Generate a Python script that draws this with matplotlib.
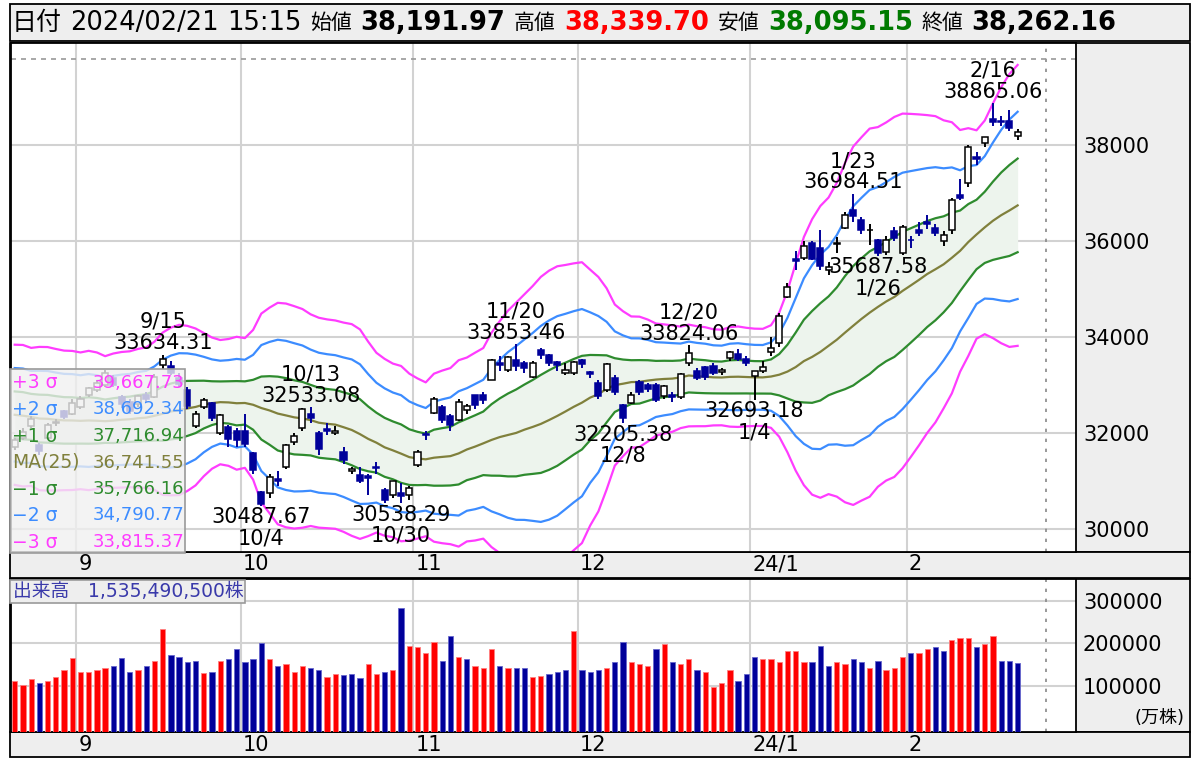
import matplotlib.pyplot as plt
import matplotlib.patches as mpatches
import matplotlib.transforms as mtransforms
import numpy as np
import pandas as pd

plt.rcParams['font.family'] = ['DejaVu Sans', 'Noto Sans CJK JP']

# trading days shown (Aug 22 2023 .. Feb 21 2024)
days = {
    '2023-08': [22, 23, 24, 25, 28, 29, 30, 31],
    '2023-09': [1, 4, 5, 6, 7, 8, 11, 12, 13, 14, 15, 19, 20, 21, 22, 25, 26, 27, 28, 29],
    '2023-10': [2, 3, 4, 5, 6, 10, 11, 12, 13, 16, 17, 18, 19, 20, 23, 24, 25, 26, 27, 30, 31],
    '2023-11': [1, 2, 6, 7, 8, 9, 10, 13, 14, 15, 16, 17, 20, 21, 22, 24, 27, 28, 29, 30],
    '2023-12': [1, 4, 5, 6, 7, 8, 11, 12, 13, 14, 15, 18, 19, 20, 21, 22, 25, 26, 27, 28, 29],
    '2024-01': [4, 5, 9, 10, 11, 12, 15, 16, 17, 18, 19, 22, 23, 24, 25, 26, 29, 30, 31],
    '2024-02': [1, 2, 5, 6, 7, 8, 9, 13, 14, 15, 16, 19, 20, 21],
}
dates = [f'{m}-{d:02d}' for m, ds in days.items() for d in ds]

# closes of the 24 sessions before Aug 22 (needed for the 25-day bands)
pre_close = [32493.89, 32896.03, 32490.52, 32304.25, 32700.69, 32682.51, 32668.34,
             32891.16, 32759.23, 33172.22, 33476.58, 32707.69, 32159.28, 32192.75,
             32254.56, 32377.29, 32204.33, 32473.65, 32059.91, 32238.89, 31766.82,
             31626.00, 31450.76, 31565.64]

opens = [31700, 31900, 32150, 31750, 31900, 32200, 32450, 32400, 32550, 32800,
         32900, 33000, 33150, 32750, 32650, 32600, 32800, 32750, 33420, 33400,
         33150, 32900, 32150, 32540, 32620, 32000, 32130, 32050, 32050, 31580,
         30770, 30750, 31050, 31300, 31810, 32100, 32400, 32000, 32080, 32000,
         31600, 31200, 31120, 31100, 31300, 30820, 30700, 30750, 30700, 31330,
         31980, 32420, 32540, 32350, 32270, 32480, 32790, 32790, 33104, 33450,
         33313, 33521, 33458, 33170, 33729, 33625, 33486, 33250, 33250, 33521,
         33280, 33035, 32896, 33146, 32583, 32625, 33069, 33000, 33000, 32760,
         32800, 32756, 33450, 33300, 33380, 33400, 33280, 33560, 33650, 33550,
         33193, 33300, 33680, 33880, 34830, 35620, 35650, 35950, 35850, 35400,
         35940, 36271, 36650, 36440, 36220, 36020, 35770, 36200, 35750, 36020,
         36230, 36400, 36270, 35990, 36230, 36950, 37210, 37760, 38040, 38550,
         38500, 38500, 38191.97]
highs = [31900, 32100, 32350, 31800, 32200, 32300, 32480, 32700, 32780, 32960,
         33100, 33320, 33200, 32800, 32700, 32800, 32850, 33220, 33634.31, 33500,
         33250, 32950, 32450, 32720, 32650, 32400, 32160, 32100, 32400, 31600,
         30800, 31150, 31200, 31780, 32000, 32520, 32533.08, 32050, 32200, 32150,
         31700, 31300, 31300, 31150, 31400, 30850, 31000, 30950, 30900, 31650,
         32050, 32750, 32580, 32400, 32700, 32600, 32800, 32850, 33550, 33600,
         33600, 33853.46, 33500, 33500, 33770, 33650, 33500, 33450, 33500, 33550,
         33300, 33100, 33450, 33200, 32600, 32850, 33100, 33050, 33050, 33000,
         32850, 33250, 33824.06, 33350, 33400, 33450, 33350, 33700, 33750, 33600,
         33300, 33500, 33990, 34500, 35125, 35800, 36000, 36000, 36230, 35560,
         36090, 36600, 36984.51, 36500, 36350, 36050, 36100, 36300, 36330, 36100,
         36400, 36550, 36350, 36200, 36900, 37290, 38000, 37850, 38170, 38865.06,
         38600, 38730, 38339.70]
lows = [31650, 31850, 32100, 31550, 31880, 32150, 32300, 32380, 32500, 32750,
        32850, 32950, 32950, 32520, 32400, 32550, 32650, 32730, 33330, 33200,
        32950, 32500, 32100, 32500, 32250, 31950, 31700, 31700, 31700, 31150,
        30487.67, 30650, 30900, 31250, 31750, 32050, 32200, 31550, 31950, 31950,
        31350, 31150, 30950, 30700, 31150, 30550, 30650, 30538.29, 30600, 31300,
        31850, 32400, 32200, 32050, 32250, 32400, 32500, 32600, 33100, 33300,
        33280, 33300, 33250, 33150, 33550, 33400, 33300, 33200, 33200, 33350,
        33150, 32700, 32850, 32800, 32205.38, 32600, 32800, 32850, 32650, 32700,
        32650, 32700, 33400, 33100, 33100, 33200, 33200, 33500, 33500, 33400,
        32693.18, 33250, 33600, 33800, 34810, 35400, 35600, 35600, 35400, 35300,
        35750, 36250, 36400, 36150, 35917, 35687.58, 35700, 36000, 35700, 35850,
        36100, 36250, 36100, 35900, 36150, 36850, 37125, 37580, 37950, 38400,
        38400, 38300, 38095.15]
closes = [31856.71, 32010.26, 32287.21, 31624.28, 32169.99, 32226.97, 32333.46, 32619.34,
          32710.62, 32939.18, 33036.76, 33241.02, 32991.08, 32606.84, 32467.76, 32776.37,
          32706.52, 33168.10, 33533.09, 33242.59, 33023.78, 32571.03, 32402.41, 32678.62,
          32315.05, 32371.90, 31872.52, 31857.62, 31759.88, 31237.94, 30526.88, 31075.36,
          30994.67, 31746.53, 31936.51, 32494.66, 32315.99, 31659.03, 32040.29, 32042.25,
          31430.62, 31259.36, 30999.55, 31062.35, 31269.92, 30601.78, 30991.69, 30696.96,
          30858.85, 31601.65, 31949.89, 32708.48, 32271.82, 32166.48, 32646.46, 32568.11,
          32585.11, 32695.93, 33519.70, 33424.41, 33585.20, 33388.03, 33354.14, 33451.83,
          33625.53, 33447.67, 33408.39, 33321.22, 33486.89, 33431.51, 33231.27, 32775.82,
          33445.90, 32858.31, 32307.86, 32791.80, 32843.71, 32926.35, 32686.25, 32970.55,
          32758.98, 33219.39, 33675.94, 33140.47, 33169.05, 33254.03, 33305.85, 33681.24,
          33539.62, 33464.17, 33288.29, 33377.42, 33763.18, 34441.72, 35049.86, 35577.11,
          35901.79, 35619.18, 35477.75, 35466.17, 35963.27, 36546.95, 36517.57, 36226.48,
          36236.47, 35751.07, 36026.94, 36065.86, 36286.71, 36011.46, 36158.02, 36354.16,
          36160.66, 36119.92, 36863.28, 36897.42, 37963.97, 37703.32, 38157.94, 38487.24,
          38470.38, 38363.61, 38262.16]
# volume, 10k shares
volumes = [111500, 101400, 114800, 105400, 110800, 119500, 136800, 164300, 132800, 132800,
           136800, 140700, 146200, 164300, 132800, 136800, 146200, 158800, 233500, 172200,
           168200, 154900, 158800, 128900, 132800, 158800, 163500, 185600, 154900, 163500,
           199700, 163500, 146200, 150100, 132800, 146200, 140700, 136800, 119500, 128100,
           124000, 127400, 118700, 150200, 127400, 132800, 136800, 282300, 194100, 190300,
           176900, 203600, 158800, 216200, 168200, 163500, 146200, 141500, 185600, 146200,
           141500, 141500, 141500, 119500, 123300, 128100, 132800, 136800, 229500, 136800,
           132800, 136800, 141500, 154900, 203600, 154900, 150200, 146200, 185600, 198900,
           154900, 150200, 163500, 136800, 132800, 97400, 106100, 136800, 110800, 128100,
           168200, 163500, 163500, 154900, 180900, 180900, 154900, 154900, 194100, 146200,
           154900, 150200, 163500, 154900, 141500, 158800, 136800, 141500, 168200, 176900,
           176900, 185600, 190300, 180900, 207500, 211500, 211500, 190300, 198900, 216200,
           158800, 158800, 153549]

month_labels = ['9', '10', '11', '12', '24/1', '2']
peaks = [('2023-09-15', 'high'), ('2023-10-04', 'low'), ('2023-10-13', 'high'),
         ('2023-10-30', 'low'), ('2023-11-20', 'high'), ('2023-12-08', 'low'),
         ('2023-12-20', 'high'), ('2024-01-04', 'low'), ('2024-01-23', 'high'),
         ('2024-01-26', 'low'), ('2024-02-16', 'high')]
legend_names = ['+3 σ', '+2 σ', '+1 σ', 'MA(25)', '−1 σ', '−2 σ', '−3 σ']
legend_values = ['39,667.73', '38,692.34', '37,716.94', '36,741.55',
                 '35,766.16', '34,790.77', '33,815.37']

C3, C2, C1, CMA = '#FF3CFF', '#3C8CFF', '#2E8B2E', '#80803C'
NAVY = '#00009A'

W, H = 1200, 758
fig = plt.figure(figsize=(W / 100, H / 100), dpi=100)


def fx(x):
    return x / W


def fy(y):
    return 1 - y / H


def panel(x0, y0, x1, y1):
    fig.patches.append(mpatches.Rectangle((fx(x0), fy(y1)), fx(x1) - fx(x0), fy(y0) - fy(y1),
                                          transform=fig.transFigure, facecolor='#EEEEEE',
                                          edgecolor='black', lw=1.3, zorder=-5))


panel(10, 4, 1190, 41)
panel(10, 43, 1190, 552)
panel(10, 552, 1190, 578)
panel(10, 579, 1190, 732)
panel(10, 732, 1190, 757)

ax = fig.add_axes([fx(11), fy(552), fx(1076) - fx(11), fy(43) - fy(552)])
axv = fig.add_axes([fx(11), fy(732), fx(1076) - fx(11), fy(579) - fy(732)])

n = len(closes)
x = np.arange(n)
o, h, l, c = map(np.array, (opens, highs, lows, closes))

# month boundaries
months = [d[:7] for d in dates]
bounds = [i - 0.5 for i in range(1, n) if months[i] != months[i - 1]]

# bollinger bands
s = pd.Series(pre_close + closes)
ma = s.rolling(25).mean().to_numpy()[len(pre_close):]
sd = s.rolling(25).std(ddof=0).to_numpy()[len(pre_close):]

for a in (ax, axv):
    a.set_xlim(-0.45, 129.1)
    a.set_xticks(bounds)
    a.tick_params(axis='x', length=0, labelbottom=False)
    a.tick_params(axis='y', length=0, labelsize=15, pad=5, left=False, labelleft=False,
                  right=False, labelright=True)
    a.grid(True, color='#D2D2D2', lw=1.5)
    a.set_axisbelow(True)
    for sp in a.spines.values():
        sp.set_linewidth(1.3)
    a.axvline(125.5, color='#888888', lw=1.2, ls=(0, (2, 4)), zorder=1)

ax.set_ylim(29520, 40125)
ax.set_yticks(range(30000, 38001, 2000))
ax.axhline(39790, color='#999999', lw=1.2, ls=(0, (3, 3)), zorder=1)

ax.fill_between(x, ma - sd, ma + sd, color='#EDF4ED', zorder=1, lw=0)
for band, col in [(ma + 3 * sd, C3), (ma + 2 * sd, C2), (ma + sd, C1), (ma, CMA),
                  (ma - sd, C1), (ma - 2 * sd, C2), (ma - 3 * sd, C3)]:
    ax.plot(x, band, color=col, lw=1.6, zorder=2)

# candles
bw = 0.74
for i in range(n):
    up = c[i] >= o[i]
    col = 'black' if up else NAVY
    ax.vlines(i, l[i], h[i], color=col, lw=1.4, zorder=3)
    lo, hi = min(o[i], c[i]), max(o[i], c[i])
    ax.add_patch(mpatches.Rectangle((i - bw / 2, lo), bw, max(hi - lo, 8),
                                    facecolor='white' if up else NAVY,
                                    edgecolor=col, lw=1.1, zorder=4))

# high / low labels
for d, kind in peaks:
    i = dates.index(d)
    md = f'{int(d[5:7])}/{int(d[8:])}'
    if kind == 'high':
        ax.annotate(f'{md}\n{h[i]:.2f}', (i, h[i]), xytext=(0, 1), textcoords='offset points',
                    ha='center', va='bottom', fontsize=15, linespacing=1.08, zorder=12)
    else:
        ax.annotate(f'{l[i]:.2f}\n{md}', (i, l[i]), xytext=(0, -1), textcoords='offset points',
                    ha='center', va='top', fontsize=15, linespacing=1.08, zorder=12)

# legend box
ax.add_patch(mpatches.Rectangle((fx(10), fy(553)), fx(185) - fx(10), fy(369) - fy(553),
                                transform=fig.transFigure, facecolor=(0.94, 0.94, 0.94, 0.8),
                                edgecolor='#9A9A9A', lw=1.2, zorder=10, clip_on=False))
leg_cols = [C3, C2, C1, CMA, C1, C2, C3]
for k, (nm, val, col) in enumerate(zip(legend_names, legend_values, leg_cols)):
    yy = fy(383 + k * 26.5)
    ax.text(fx(12), yy, nm, transform=fig.transFigure, color=col, fontsize=13.5,
            va='center', ha='left', zorder=11)
    ax.text(fx(184), yy, val, transform=fig.transFigure, color=col, fontsize=13,
            va='center', ha='right', zorder=11)

# volume
vol_floor = -9400
axv.set_ylim(vol_floor, 351400)
axv.set_yticks([100000, 200000, 300000])
prev = np.array([pre_close[-1]] + closes[:-1])
vcol = np.where(c >= prev, '#FF0000', NAVY)
vedge = np.where(c >= prev, '#FF8080', '#6666CC')
axv.bar(x, np.array(volumes) - vol_floor, bottom=vol_floor, width=0.64, color=vcol,
        edgecolor=vedge, lw=0.6, zorder=3)
axv.text(fx(1185), fy(718), '(万株)', transform=fig.transFigure, ha='right', va='center',
         fontsize=13)
axv.add_patch(mpatches.Rectangle((fx(10), fy(603)), fx(245) - fx(10), fy(580) - fy(603),
                                 transform=fig.transFigure, facecolor='#EEEEEE',
                                 edgecolor='#9A9A9A', lw=1.2, zorder=10, clip_on=False))
axv.text(fx(13), fy(591.5), '出来高　1,535,490,500株', transform=fig.transFigure,
         color='#3A3AAA', fontsize=13.5, va='center', ha='left', zorder=11)

# month labels in the strips
for a, ystrip in ((ax, 564), (axv, 745)):
    tr = mtransforms.blended_transform_factory(a.transData, fig.transFigure)
    for b, lab in zip(bounds, month_labels):
        a.text(b + 0.25, fy(ystrip), lab, transform=tr, ha='left', va='center', fontsize=15,
               clip_on=False)

# header
renderer = fig.canvas.get_renderer()
items = [('日付', 18, 'normal', 'black'), ('2024/02/21', 18.5, 'normal', 'black'),
         ('15:15', 18.5, 'normal', 'black'), ('始値', 15, 'normal', 'black'),
         ('38,191.97', 18.5, 'bold', 'black'), ('高値', 15, 'normal', 'black'),
         ('38,339.70', 18.5, 'bold', '#FF0000'), ('安値', 15, 'normal', 'black'),
         ('38,095.15', 18.5, 'bold', '#007A00'), ('終値', 15, 'normal', 'black'),
         ('38,262.16', 18.5, 'bold', 'black')]
xp = 12
for txt, size, wt, col in items:
    t = fig.text(fx(xp), fy(23), txt, fontsize=size, fontweight=wt, color=col,
                 va='center', ha='left')
    xp += t.get_window_extent(renderer).width + 8.5

fig.savefig('out.png', dpi=100)
